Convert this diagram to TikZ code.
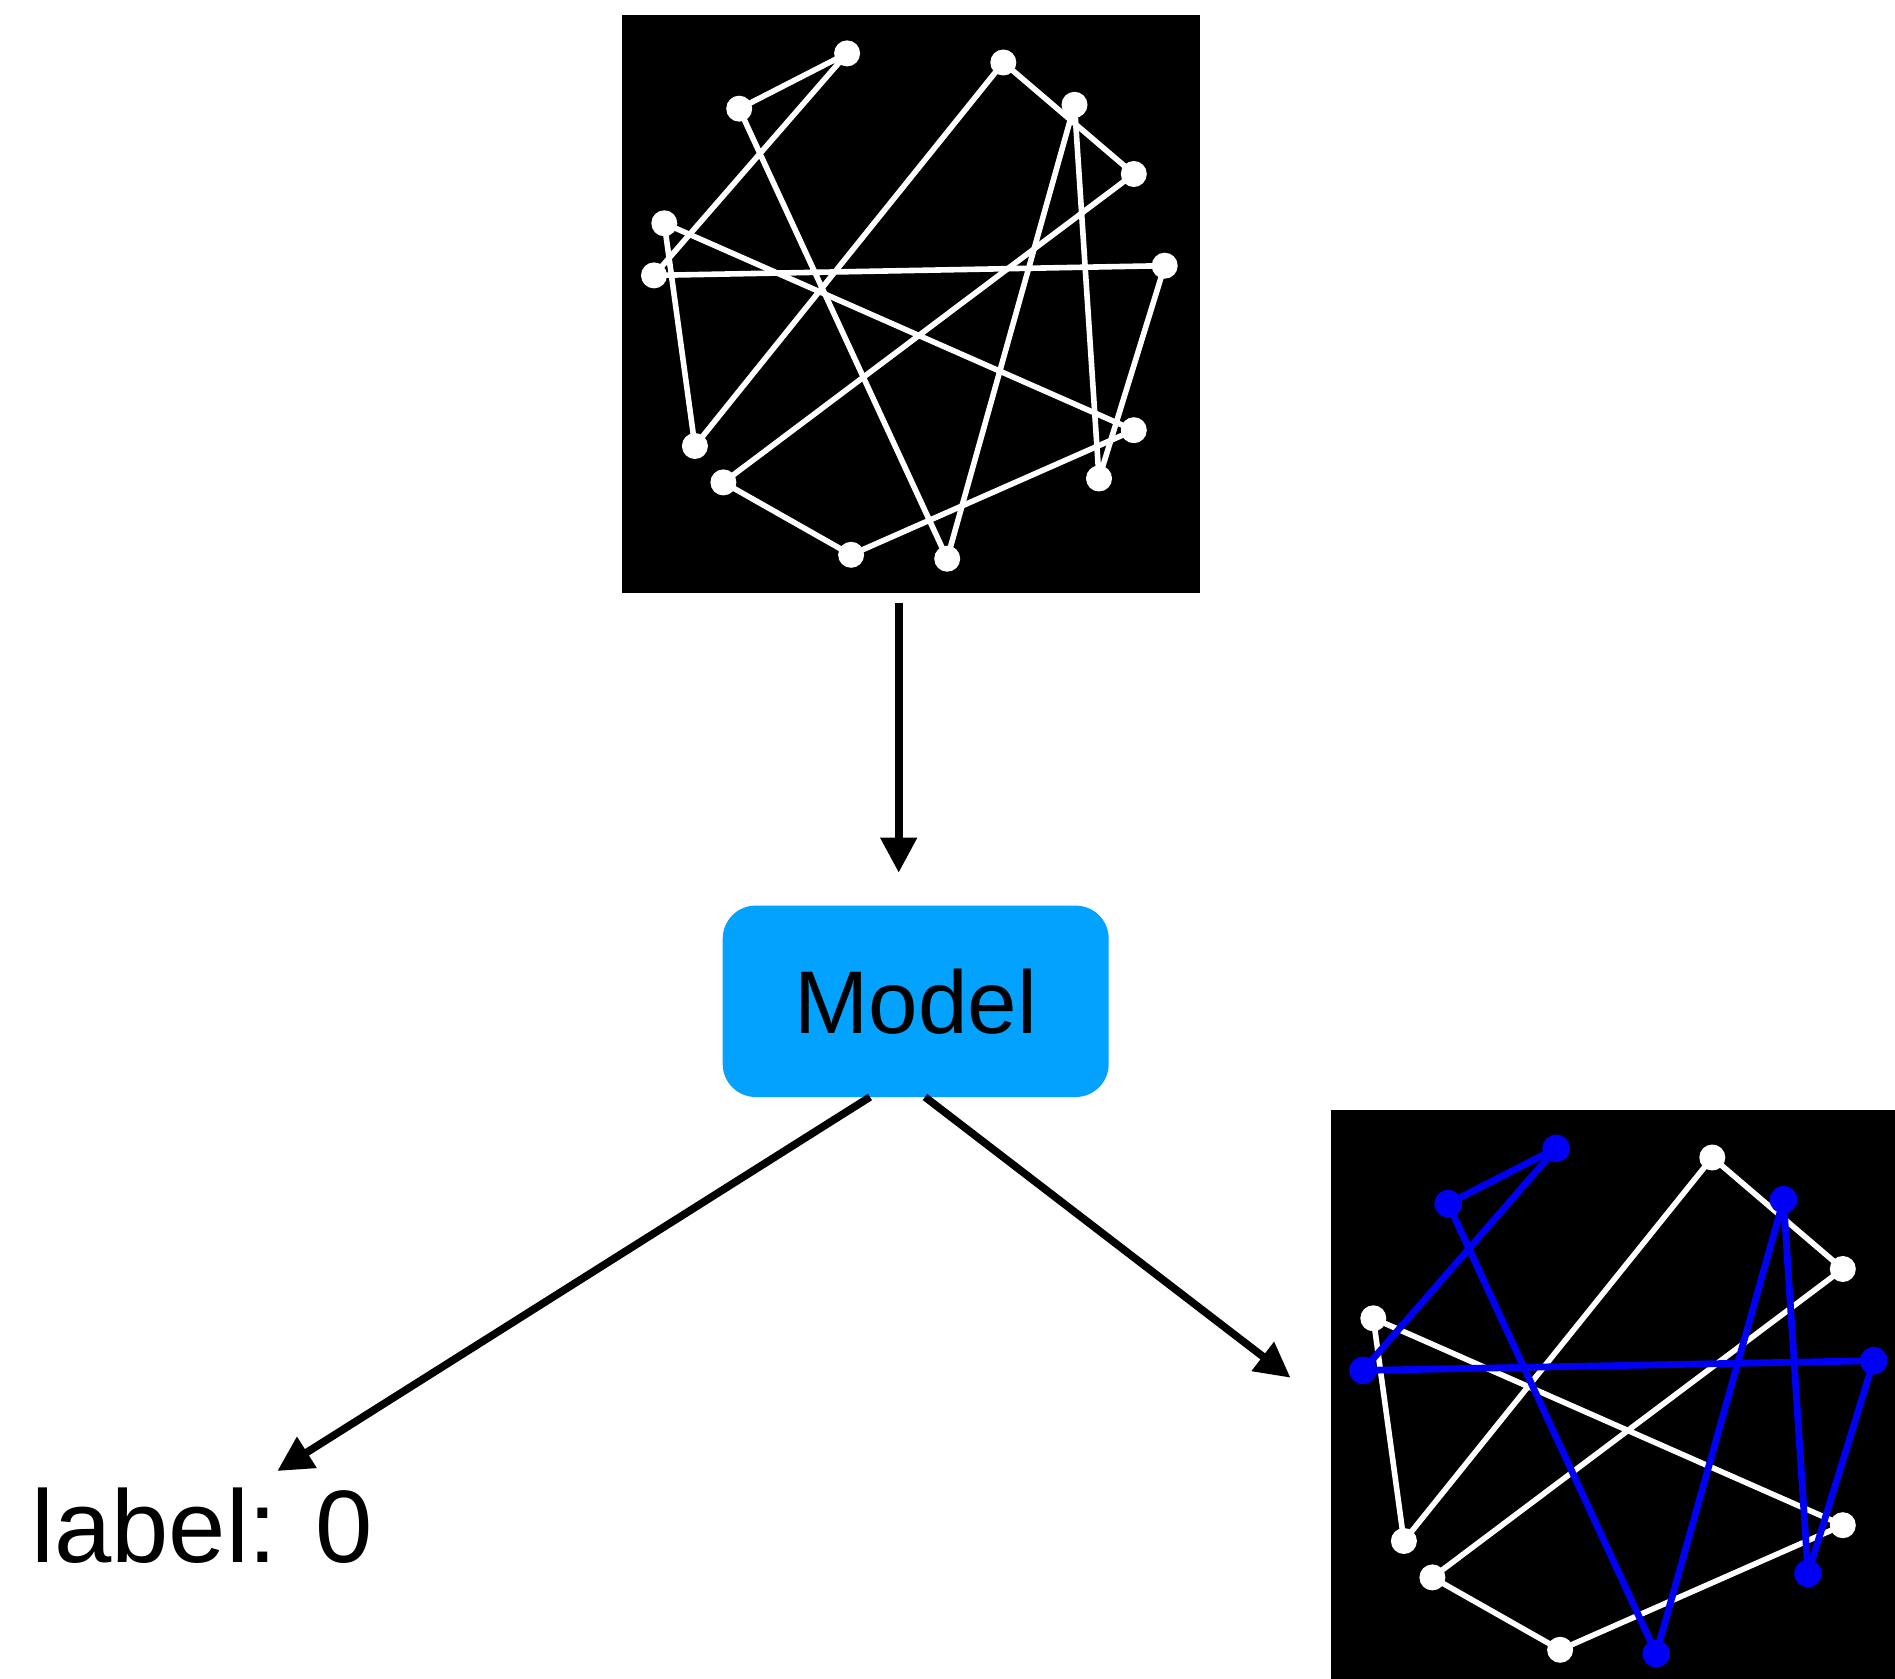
\documentclass[tikz,border=0pt]{standalone}
\usepackage{fontspec}
\setmainfont{Liberation Sans}
\usetikzlibrary{arrows.meta}

\definecolor{modelblue}{RGB}{3,162,255}
\definecolor{pathblue}{RGB}{0,0,245}

% Node positions of the graph, relative to the top-left corner of its frame
\newcommand\graphlayout[1]{%
  \coordinate (#1-1)  at (225.1,38.4);
  \coordinate (#1-2)  at (117.2,93.7);
  \coordinate (#1-3)  at (381.3,47.5);
  \coordinate (#1-4)  at (452.5,89.8);
  \coordinate (#1-5)  at (511.8,159.0);
  \coordinate (#1-6)  at (42.3,208.3);
  \coordinate (#1-7)  at (32.0,260.4);
  \coordinate (#1-8)  at (542.7,250.7);
  \coordinate (#1-9)  at (72.9,431.0);
  \coordinate (#1-10) at (101.4,467.4);
  \coordinate (#1-11) at (511.8,415.2);
  \coordinate (#1-12) at (477.0,463.5);
  \coordinate (#1-13) at (229.1,539.8);
  \coordinate (#1-14) at (325.2,543.7);
}

% Two 7-cycles: the first always white, the second in the "cyc two" styles
\newcommand\drawgraph[1]{%
  \graphlayout{#1}
  \draw[cyc one edge] (#1-3) -- (#1-5) -- (#1-10) -- (#1-13) -- (#1-11)
        -- (#1-6) -- (#1-9) -- cycle;
  \draw[cyc two edge] (#1-1) -- (#1-2) -- (#1-14) -- (#1-4) -- (#1-12)
        -- (#1-8) -- (#1-7) -- cycle;
  \foreach \i in {3,5,10,13,11,6,9}
    \node[cyc one dot] (#1-d\i) at (#1-\i) {};
  \foreach \i in {1,2,14,4,12,8,7}
    \node[cyc two dot] (#1-d\i) at (#1-\i) {};
}

\begin{document}
\begin{tikzpicture}[x=0.5pt,y=-0.5pt,
  frame/.style={fill=black,inner sep=0pt,outer sep=0pt,anchor=north west},
  white edge/.style={draw=white,line width=2.8pt,line join=round},
  blue edge/.style={draw=pathblue,line width=3.4pt,line join=round},
  white dot/.style={circle,fill=white,inner sep=0pt,minimum size=13pt},
  blue dot/.style={circle,fill=pathblue,inner sep=0pt,minimum size=13.8pt},
  cyc one edge/.style={white edge},
  cyc one dot/.style={white dot},
  flow/.style={line width=3.8pt,-{Triangle[length=17.5pt,width=17.5pt]}},
  modelbox/.style={fill=modelblue,rounded corners=16.5pt,inner sep=0pt,
    minimum width=193pt,minimum height=95.7pt,
    font=\fontsize{44.5}{50}\selectfont},
  labeltext/.style={inner sep=0pt,anchor=base west,
    font=\fontsize{51.5}{58}\selectfont},
]
\useasboundingbox (0,0) rectangle (1895,1679);

% input graph
\node[frame,minimum width=289pt,minimum height=289pt] (inimg) at (622,15) {};
\begin{scope}[shift={(622,15)},
    cyc two edge/.style={white edge},cyc two dot/.style={white dot}]
  \drawgraph{t}
\end{scope}

% model
\node[modelbox] (model) at (915.7,1001.3) {Model};

% outputs
\node[labeltext] (label) at (31,1562.7) {label: 0};

\node[frame,minimum width=282pt,minimum height=284.5pt] (outimg) at (1331,1110) {};
\begin{scope}[shift={(1331,1110)},
    cyc two edge/.style={blue edge},cyc two dot/.style={blue dot}]
  \drawgraph{b}
\end{scope}

% arrows
\coordinate (a1s) at (898.7,602.7);
\coordinate (a1e) at (898.7,872.7);
\coordinate (a2s) at (870,1097);
\coordinate (a2e) at (277.3,1471);
\coordinate (a3s) at (925,1097);
\coordinate (a3e) at (1290.5,1377.7);
\draw[flow] (a1s) -- (a1e);
\draw[flow] (a2s) -- (a2e);
\draw[flow] (a3s) -- (a3e);
\end{tikzpicture}
\end{document}
